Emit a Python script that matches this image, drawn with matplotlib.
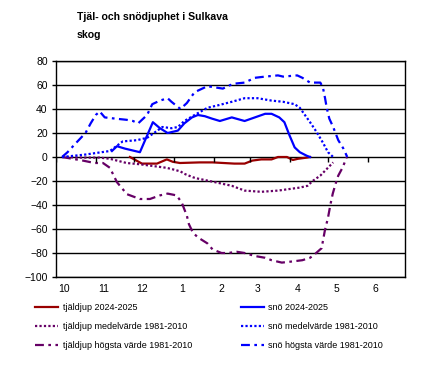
import numpy as np
import matplotlib
matplotlib.use("Agg")
import matplotlib.pyplot as plt
from matplotlib.transforms import ScaledTranslation

plt.rcParams['font.family'] = ['Liberation Sans', 'DejaVu Sans']

# x = days since 1 October
month_ticks = [0, 31, 61, 92, 123, 151, 182, 212, 243]
month_labels = ['10', '11', '12', '1', '2', '3', '4', '5', '6']

# tjäldjup (frost depth) 2024-2025
frost_days = [57.6, 67, 78.7, 86.4, 91, 96.6, 112, 122, 139, 147, 153, 160, 168, 173,
              180, 184.6, 188.5, 195.5, 198]
frost_vals = [0, -5.5, -5.5, -2, -4, -5, -4.5, -4.5, -5.5, -5.5, -3, -2, -2, 0,
              0, -2.5, -1.5, -0.5, 0]

# tjäldjup medelvärde 1981-2010
frost_mean_days = [4.7, 18.7, 34, 42, 55, 65, 79, 86, 90, 97, 100, 107, 110.6, 124,
                   137, 147, 160, 173, 190, 196, 200, 206, 211, 216]
frost_mean_vals = [0, -0.5, -0.5, -1.5, -5, -6, -8, -9, -10, -12, -14, -17, -18, -21,
                   -24, -28, -29, -28, -25.5, -24, -20, -15.5, -10, -4.5]

# tjäldjup högsta värde 1981-2010
frost_max_days = [4.7, 21, 30, 36.6, 42, 47.5, 55.3, 65.4, 73.2, 81, 87, 94, 98, 102,
                  103.6, 106.7, 110.6, 118, 122, 129, 134, 141, 147, 155, 163, 168,
                  176, 184.6, 192, 198, 201.7, 207, 209.5, 212, 214, 215.7, 218, 220,
                  223.5, 226.6]
frost_max_vals = [0, -3, -5, -5, -9, -21, -31, -35, -35, -32, -30.5, -32, -38, -49,
                  -56, -63, -67, -72, -77, -80, -80, -79, -80, -82.5, -84, -86,
                  -88, -87, -86, -84, -81, -76, -61.5, -50.5, -39, -30.5, -22, -15.5,
                  -8.5, 0]

# snö (snow depth) 2024-2025
snow_days = [43.6, 47.5, 53.7, 65.4, 75.5, 81, 87, 95, 100, 106, 110.6, 116, 121.5,
             127.7, 137, 147, 155, 163, 168, 174, 178, 182, 186, 190, 195.5, 198]
snow_vals = [5, 9, 7, 4, 29, 24, 20, 22, 28, 33, 35, 34, 32,
             30, 33, 30, 33, 36, 36, 33, 29, 18, 8, 4, 1, 0]

# snö medelvärde 1981-2010
snow_mean_days = [4.7, 22.6, 42, 52, 63, 71, 83, 90, 95, 100, 108, 118, 126, 137,
                  147, 157, 168, 177, 186, 190, 194, 198, 203, 208, 212, 216]
snow_mean_vals = [0, 2, 5, 13, 14, 16, 25, 24, 25, 30, 35, 41, 43, 46,
                  49, 49, 47, 46, 44, 41, 35, 29, 21, 12, 4, 0]

# snö högsta värde 1981-2010
snow_max_days = [4.7, 9, 15, 23, 27, 31, 34, 38, 46, 55, 60, 64, 71, 75, 81, 87, 90,
                 97, 102, 108, 118, 124, 130, 138, 147, 155, 163, 173, 177, 188, 192,
                 198, 206, 208, 209.7, 211, 213, 216, 220, 224, 227]
snow_max_vals = [0, 4, 11, 20, 28, 35, 38, 33, 32, 31, 30, 28, 35, 44, 47, 49, 46,
                 40, 45, 54, 59, 58, 57, 61, 62, 66, 67, 68, 67, 68, 66,
                 62, 62, 58, 49, 41, 32, 25, 14, 7, 0]

red = '#990000'
purple = '#660066'
blue = '#0000ff'
dashdot = (0, (4, 2, 1.2, 2))

fig = plt.figure(figsize=(4.3, 3.76), dpi=100)
ax = fig.add_axes([56/430, 1 - 277/376, 349/430, 216/376])

ax.plot(frost_days, frost_vals, color=red, lw=1.6, label='tjäldjup 2024-2025')
ax.plot(frost_mean_days, frost_mean_vals, color=purple, lw=1.6, ls=(0, (1, 1)),
        label='tjäldjup medelvärde 1981-2010')
ax.plot(frost_max_days, frost_max_vals, color=purple, lw=1.6, ls=dashdot,
        label='tjäldjup högsta värde 1981-2010')
ax.plot(snow_days, snow_vals, color=blue, lw=1.6, label='snö 2024-2025')
ax.plot(snow_mean_days, snow_mean_vals, color=blue, lw=1.6, ls=(0, (1, 1)),
        label='snö medelvärde 1981-2010')
ax.plot(snow_max_days, snow_max_vals, color=blue, lw=1.6, ls=dashdot,
        label='snö högsta värde 1981-2010')

ax.set_xlim(0, 272)
ax.set_ylim(-100, 80)
ax.set_yticks(np.arange(-100, 81, 20))
ax.yaxis.grid(True, color='black', lw=1)
ax.set_axisbelow(True)
for s in ax.spines.values():
    s.set_color('black')
    s.set_linewidth(1)

ax.tick_params(axis='y', length=3, width=1, pad=3, labelsize=7.5)
ax.set_xticks(month_ticks)
ax.set_xticklabels(month_labels)
ax.tick_params(axis='x', length=0, pad=5, labelsize=7.5)
for lab in ax.get_xticklabels():
    lab.set_transform(lab.get_transform() + ScaledTranslation(8/100, 0, fig.dpi_scale_trans))

# tick marks on the zero line
ax.vlines(month_ticks, -4.5, 0, color='black', lw=1)

fig.text(77/430, 1 - 12/376, 'Tjäl- och snödjuphet i Sulkava\nskog', fontsize=7.6,
         fontweight='bold', va='top', ha='left', linespacing=2.0)

fig.legend(loc='upper left', bbox_to_anchor=(35/430, 1 - 303/376), ncol=2,
           frameon=False, fontsize=6.5, handlelength=2.6, handletextpad=0.45,
           columnspacing=5.4, labelspacing=1.1, borderpad=0, borderaxespad=0)

fig.savefig('out.png', dpi=100)
